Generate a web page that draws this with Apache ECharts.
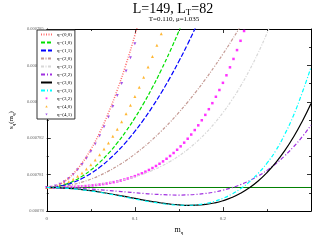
<!DOCTYPE html>
<html><head><meta charset="utf-8">
<script src="https://cdn.jsdelivr.net/npm/echarts@6/dist/echarts.min.js"></script>
<style>html,body{margin:0;padding:0;background:#fff}#c{width:313px;height:240px}</style>
</head><body><div id="c"></div>
<script>
// x positions (m_q)
const m01 = [0,0.01,0.02,0.03,0.04,0.05,0.06,0.07,0.08,0.09,0.10,0.11,0.12,0.13,0.14,0.15,0.16,0.17,0.18,0.19,0.20,0.21,0.22,0.23,0.24,0.25,0.26,0.27,0.28,0.29,0.30];
const m005 = [0,0.005,0.01,0.015,0.02,0.025,0.03,0.035,0.04,0.045,0.05,0.055,0.06,0.065,0.07,0.075,0.08,0.085,0.09,0.095,0.10,0.105,0.11,0.115,0.12,0.125,0.13,0.135];
const m004 = [0,0.004,0.008,0.012,0.016,0.02,0.024,0.028,0.032,0.036,0.04,0.044,0.048,0.052,0.056,0.06,0.064,0.068,0.072,0.076,0.08,0.084,0.088,0.092,0.096,0.10,0.104,0.108,0.112,0.116,0.12,0.124,0.128,0.132,0.136,0.14,0.144,0.148,0.152,0.156,0.16,0.164,0.168,0.172,0.176,0.18,0.184,0.188,0.192,0.196,0.20,0.204,0.208,0.212,0.216,0.22,0.224,0.228];

// s_q(m_q) values
const s00 = [780.648e-6,780.690e-6,780.815e-6,781.024e-6,781.317e-6,781.693e-6,782.153e-6,782.696e-6,783.323e-6,784.034e-6,784.828e-6,785.706e-6];
const s10 = [780.648e-6,780.667e-6,780.724e-6,780.820e-6,780.954e-6,781.126e-6,781.336e-6,781.584e-6,781.870e-6,782.195e-6,782.558e-6,782.959e-6,783.398e-6,783.876e-6,784.392e-6,784.946e-6,785.538e-6];
const s11 = [780.648e-6,780.663e-6,780.710e-6,780.787e-6,780.894e-6,781.033e-6,781.202e-6,781.403e-6,781.634e-6,781.895e-6,782.188e-6,782.511e-6,782.866e-6,783.251e-6,783.666e-6,784.113e-6,784.590e-6,785.099e-6,785.638e-6];
const s20 = [780.648e-6,780.657e-6,780.685e-6,780.730e-6,780.795e-6,780.877e-6,780.978e-6,781.097e-6,781.234e-6,781.390e-6,781.564e-6,781.756e-6,781.967e-6,782.196e-6,782.443e-6,782.709e-6,782.993e-6,783.295e-6,783.616e-6,783.955e-6,784.312e-6,784.688e-6,785.081e-6,785.494e-6];
const s21 = [780.648e-6,780.650e-6,780.657e-6,780.668e-6,780.685e-6,780.708e-6,780.737e-6,780.774e-6,780.820e-6,780.875e-6,780.943e-6,781.023e-6,781.118e-6,781.231e-6,781.363e-6,781.516e-6,781.693e-6,781.898e-6,782.132e-6,782.399e-6,782.702e-6,783.045e-6,783.430e-6,783.863e-6,784.346e-6,784.884e-6,785.481e-6];
const s22 = [780.648e-6,780.646e-6,780.641e-6,780.632e-6,780.619e-6,780.604e-6,780.587e-6,780.567e-6,780.546e-6,780.525e-6,780.504e-6,780.484e-6,780.467e-6,780.453e-6,780.444e-6,780.441e-6,780.446e-6,780.460e-6,780.484e-6,780.521e-6,780.573e-6,780.641e-6,780.727e-6,780.834e-6,780.964e-6,781.118e-6,781.301e-6,781.514e-6,781.760e-6,782.041e-6,782.360e-6];
const s30 = [780.648e-6,780.644e-6,780.633e-6,780.615e-6,780.591e-6,780.560e-6,780.524e-6,780.484e-6,780.440e-6,780.395e-6,780.349e-6,780.303e-6,780.261e-6,780.223e-6,780.192e-6,780.170e-6,780.159e-6,780.162e-6,780.182e-6,780.222e-6,780.284e-6,780.372e-6,780.490e-6,780.641e-6,780.828e-6,781.057e-6,781.330e-6,781.652e-6,782.028e-6,782.462e-6,782.957e-6];
const s31 = [780.648e-6,780.644e-6,780.632e-6,780.613e-6,780.587e-6,780.554e-6,780.516e-6,780.473e-6,780.427e-6,780.379e-6,780.332e-6,780.286e-6,780.243e-6,780.207e-6,780.180e-6,780.163e-6,780.160e-6,780.174e-6,780.208e-6,780.265e-6,780.350e-6,780.465e-6,780.615e-6,780.803e-6,781.036e-6,781.315e-6,781.660e-6,782.100e-6,782.620e-6,783.250e-6,783.950e-6];
const s32 = [780.648e-6,780.648e-6,780.649e-6,780.651e-6,780.653e-6,780.655e-6,780.659e-6,780.663e-6,780.667e-6,780.673e-6,780.680e-6,780.687e-6,780.696e-6,780.706e-6,780.717e-6,780.729e-6,780.743e-6,780.758e-6,780.776e-6,780.795e-6,780.816e-6,780.840e-6,780.866e-6,780.894e-6,780.925e-6,780.960e-6,780.997e-6,781.038e-6,781.082e-6,781.130e-6,781.183e-6,781.239e-6,781.300e-6,781.366e-6,781.437e-6,781.514e-6,781.596e-6,781.684e-6,781.778e-6,781.879e-6,781.987e-6,782.102e-6,782.225e-6,782.355e-6,782.494e-6,782.642e-6,782.798e-6,782.964e-6,783.139e-6,783.325e-6,783.522e-6,783.729e-6,783.948e-6,784.178e-6,784.421e-6,784.676e-6,784.945e-6,785.227e-6];
const s40 = [780.648e-6,780.654e-6,780.673e-6,780.704e-6,780.748e-6,780.804e-6,780.873e-6,780.954e-6,781.048e-6,781.154e-6,781.273e-6,781.404e-6,781.548e-6,781.704e-6,781.873e-6,782.054e-6,782.248e-6,782.454e-6,782.673e-6,782.904e-6,783.148e-6,783.404e-6,783.673e-6,783.954e-6,784.248e-6,784.554e-6,784.873e-6,785.204e-6];
const s41 = [780.648e-6,780.658e-6,780.688e-6,780.737e-6,780.806e-6,780.895e-6,781.004e-6,781.132e-6,781.280e-6,781.448e-6,781.636e-6,781.843e-6,782.070e-6,782.317e-6,782.584e-6,782.870e-6,783.176e-6,783.502e-6,783.848e-6,784.213e-6,784.598e-6,785.003e-6];
const sRef = [780.648e-6, 780.648e-6];
const mRef = [0, 0.3];

const names = ['q=(0,0)','q=(1,0)','q=(1,1)','q=(2,0)','q=(2,1)','q=(2,2)','q=(3,0)','q=(3,1)','q=(3,2)','q=(4,0)','q=(4,1)'];
const lineNames = names.slice(0, 8);
const xTicks = [0, 0.1, 0.2];
const yTicks = [780e-6, 781e-6, 782e-6, 783e-6, 784e-6, 785e-6];

const pair = (xs, ys) => ys.map((y, i) => [xs[i], y]);
function lineS(name, xs, ys, color, type, width) {
  return {type:'line', name, data: pair(xs, ys), symbol:'none', showSymbol:false, smooth:true,
    lineStyle:{color, width, type}, itemStyle:{color}, animation:false};
}
function dotS(name, xs, ys, color, symbol, size, rot) {
  return {type:'scatter', name, data: pair(xs, ys), symbol, symbolSize:size, symbolRotate:rot||0,
    itemStyle:{color}, animation:false, clip:true};
}
// small legend markers (bounding box padded to the icon box)
const legendIcons = {
  'q=(3,2)': 'path://M0,0M11,5M4.6,1.4L6.4,1.4L6.4,3.2L4.6,3.2Z',
  'q=(4,0)': 'path://M0,0M11,5M5.5,1.2L6.7,3.4L4.3,3.4Z',
  'q=(4,1)': 'path://M0,0M11,5M4.3,1.4L6.7,1.4L5.5,3.6Z'
};

const axisCommon = {
  type:'value', splitLine:{show:false},
  axisLine:{show:true, onZero:false, lineStyle:{color:'#000', width:1}},
  axisTick:{show:true, inside:true, length:4, lineStyle:{color:'#000', width:0.8}},
  minorTick:{show:true, splitNumber:2, length:2, lineStyle:{color:'#000', width:0.8}}
};
const font = 'Liberation Serif';

const chart = echarts.init(document.getElementById('c'), null, {renderer:'canvas'});
chart.setOption({
  animation:false,
  backgroundColor:'#fff',
  grid:{left:36, right:2, top:29, bottom:18, containLabel:false},
  graphic:[
    {type:'text', x:173, y:1, style:{text:'{a|L=149, L}{b|T}{a|=82}', textAlign:'center',
      rich:{a:{fontFamily:font, fontSize:14, fill:'#000'}, b:{fontFamily:font, fontSize:9, fill:'#000', padding:[7,0,0,0]}}}},
    {type:'text', x:174, y:16, style:{text:'T=0.110, \u03bc=1.035', textAlign:'center', fontFamily:font, fontSize:7, fill:'#000'}}
  ],
  legend:{
    data: names.map(n => lineNames.includes(n) ? {name:n, itemStyle:{opacity:0}} : {name:n, icon:legendIcons[n]}),
    orient:'vertical', left:37, top:30, itemWidth:11, itemHeight:5, itemGap:3,
    padding:[2,3,2,3], borderColor:'#333', borderWidth:1, backgroundColor:'#fff',
    textStyle:{fontSize:5, fontFamily:font, color:'#000'}},
  xAxis:[
    Object.assign({}, axisCommon, {position:'bottom', min:0, max:0.3, interval:0.1,
      axisLabel:{fontSize:5, color:'#555', margin:5, fontFamily:font, showMaxLabel:false,
        formatter:v => xTicks.some(t => Math.abs(t - v) < 1e-9) ? String(parseFloat(v.toFixed(3))) : ''},
      name:'{a|m}{b|q}', nameLocation:'middle', nameGap:12,
      nameTextStyle:{rich:{a:{fontFamily:font, fontSize:8, color:'#000'}, b:{fontFamily:font, fontSize:5, color:'#000', padding:[5,0,0,0]}}}}),
    Object.assign({}, axisCommon, {position:'top', min:0, max:0.3, interval:0.1, axisLabel:{show:false}})
  ],
  yAxis:[
    Object.assign({}, axisCommon, {position:'left', min:780e-6, max:785e-6, interval:1e-6,
      axisLabel:{fontSize:4.5, color:'#666', margin:3, fontFamily:font,
        formatter:v => { const t = yTicks.find(t => Math.abs(t - v) < 1e-10); return t === undefined ? '' : String(parseFloat(t.toFixed(7))); }},
      name:'{a|s}{b|q}{a|(m}{b|q}{a|)}', nameLocation:'middle', nameGap:28, nameRotate:90,
      nameTextStyle:{rich:{a:{fontFamily:font, fontSize:7, color:'#000'}, b:{fontFamily:font, fontSize:5, color:'#000', padding:[4,0,0,0]}}}}),
    Object.assign({}, axisCommon, {position:'right', min:780e-6, max:785e-6, interval:1e-6, axisLabel:{show:false}})
  ],
  series:[
    {type:'line', name:'ref', data:pair(mRef, sRef), symbol:'none', lineStyle:{color:'#008000', width:1}, silent:true, z:1},
    lineS(names[0], m01, s00, '#ff6b6b', [1,1.5], 1.5),
    lineS(names[1], m01, s10, '#00e000', [4,2], 1.2),
    lineS(names[2], m01, s11, '#0000ff', [5,2], 1.2),
    lineS(names[3], m01, s20, '#c49a94', [3,1.5,1,1.5], 1.2),
    lineS(names[4], m01, s21, '#d8d8d8', [3,1.5,1,1.5], 1.2),
    lineS(names[5], m01, s22, '#a030e0', [4,2,1,2], 1.2),
    lineS(names[6], m01, s30, '#000000', 'solid', 1.2),
    lineS(names[7], m01, s31, '#00ffff', [4,2,1,2], 1.2),
    dotS(names[8], m004, s32, '#ff00ff', 'rect', 2.5),
    dotS(names[9], m005, s40, '#ffa500', 'triangle', 3),
    dotS(names[10], m005, s41, '#8a2be2', 'triangle', 3, 180)
  ]
});
</script></body></html>
